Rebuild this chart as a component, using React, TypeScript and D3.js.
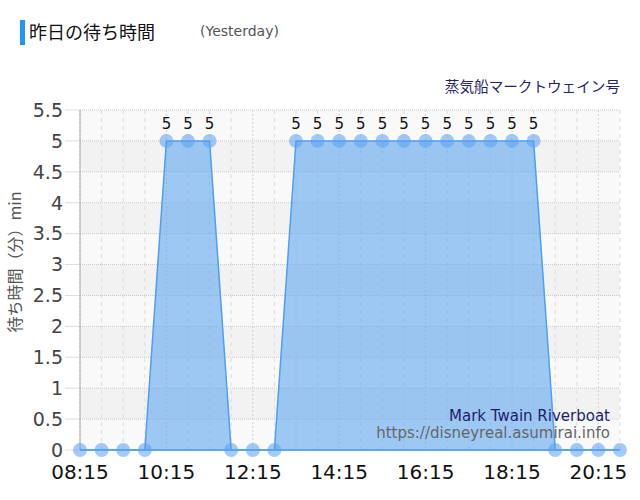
import { useEffect, useRef } from "react";
import { select, scalePoint, scaleLinear, area, line } from "d3";

const TIMES = [
  "08:15", "08:45", "09:15", "09:45", "10:15", "10:45", "11:15", "11:45",
  "12:15", "12:45", "13:15", "13:45", "14:15", "14:45", "15:15", "15:45",
  "16:15", "16:45", "17:15", "17:45", "18:15", "18:45", "19:15", "19:45",
  "20:15", "20:45",
];
const WAIT = [0, 0, 0, 0, 5, 5, 5, 0, 0, 0, 5, 5, 5, 5, 5, 5, 5, 5, 5, 5, 5, 5, 0, 0, 0, 0];
const X_LABELS = ["08:15", "10:15", "12:15", "14:15", "16:15", "18:15", "20:15"];
const Y_TICKS = [0, 0.5, 1, 1.5, 2, 2.5, 3, 3.5, 4, 4.5, 5, 5.5];

const WIDTH = 640;
const HEIGHT = 500;
const PLOT = { left: 80, right: 620, top: 110, bottom: 450 };
const FONT = "'Noto Sans CJK JP', 'DejaVu Sans', sans-serif";
const SANS = "'DejaVu Sans', sans-serif";

export default function App() {
  const svgRef = useRef<SVGSVGElement>(null);

  useEffect(() => {
    const svg = select(svgRef.current);
    svg.selectAll("*").remove();

    const x = scalePoint<string>().domain(TIMES).range([PLOT.left, PLOT.right]).padding(0);
    const y = scaleLinear().domain([0, 5.5]).range([PLOT.bottom, PLOT.top]);

    // title
    svg.append("rect").attr("x", 20).attr("y", 20).attr("width", 5).attr("height", 25).attr("fill", "#2196f3");
    svg.append("text").attr("x", 29).attr("y", 39).attr("font-family", FONT).attr("font-size", 18)
      .attr("fill", "#111").text("昨日の待ち時間");
    svg.append("text").attr("x", 200).attr("y", 36).attr("font-family", SANS)
      .attr("font-size", 14).attr("fill", "#555").text("(Yesterday)");
    svg.append("text").attr("x", 620).attr("y", 92).attr("text-anchor", "end").attr("font-family", FONT)
      .attr("font-size", 14.6).attr("fill", "#23236b").text("蒸気船マークトウェイン号");

    // background bands
    Y_TICKS.slice(0, -1).forEach((v, i) => {
      svg.append("rect")
        .attr("x", PLOT.left).attr("y", y(v + 0.5))
        .attr("width", PLOT.right - PLOT.left).attr("height", y(v) - y(v + 0.5))
        .attr("fill", i % 2 === 0 ? "#f9f9f9" : "#f2f2f2");
    });

    // vertical grid
    TIMES.forEach((t) => {
      svg.append("line")
        .attr("x1", x(t)!).attr("x2", x(t)!).attr("y1", PLOT.top).attr("y2", PLOT.bottom)
        .attr("stroke", X_LABELS.includes(t) ? "#d0d0d0" : "#dddddd")
        .attr("stroke-dasharray", X_LABELS.includes(t) ? "2,2" : "4,4");
    });

    // horizontal grid + y ticks
    Y_TICKS.forEach((v) => {
      svg.append("line")
        .attr("x1", PLOT.left).attr("x2", PLOT.right).attr("y1", y(v)).attr("y2", y(v))
        .attr("stroke", "#c8c8c8").attr("stroke-dasharray", "1,1");
      svg.append("line")
        .attr("x1", PLOT.left - 15).attr("x2", PLOT.left).attr("y1", y(v)).attr("y2", y(v))
        .attr("stroke", "#dddddd");
      svg.append("text")
        .attr("x", PLOT.left - 17).attr("y", y(v)).attr("dy", "0.36em").attr("text-anchor", "end")
        .attr("font-family", SANS).attr("font-size", 19).attr("fill", "#444")
        .text(String(v));
    });

    // y axis line
    svg.append("line").attr("x1", PLOT.left).attr("x2", PLOT.left).attr("y1", PLOT.top).attr("y2", PLOT.bottom)
      .attr("stroke", "#aaaaaa");

    // area
    const pts = WAIT.map((v, i) => [x(TIMES[i])!, y(v)] as [number, number]);
    const areaGen = area<[number, number]>().x((d) => d[0]).y0(y(0)).y1((d) => d[1]);
    svg.append("path").attr("d", areaGen(pts)).attr("fill", "rgba(100,170,240,0.62)");
    const lineGen = line<[number, number]>().x((d) => d[0]).y((d) => d[1]);
    svg.append("path").attr("d", lineGen(pts)).attr("fill", "none").attr("stroke", "#4f9ef0").attr("stroke-width", 1.5);
    svg.append("line").attr("x1", PLOT.left).attr("x2", PLOT.right).attr("y1", y(0)).attr("y2", y(0))
      .attr("stroke", "#5aa6f2").attr("stroke-width", 2);

    // points
    pts.forEach(([px, py]) => {
      svg.append("circle").attr("cx", px).attr("cy", py).attr("r", 7).attr("fill", "rgba(90,160,240,0.55)");
    });

    // data labels
    WAIT.forEach((v, i) => {
      if (v > 0) {
        svg.append("text").attr("x", x(TIMES[i])!).attr("y", y(v) - 12).attr("text-anchor", "middle")
          .attr("font-family", SANS).attr("font-size", 15).attr("fill", "#111")
          .text(String(v));
      }
    });

    // x labels
    X_LABELS.forEach((t) => {
      svg.append("text").attr("x", x(t)!).attr("y", 479).attr("text-anchor", "middle")
        .attr("font-family", SANS).attr("font-size", 20).attr("fill", "#111")
        .text(t);
    });

    // y title
    svg.append("text")
      .attr("transform", "translate(21,262) rotate(-90)")
      .attr("text-anchor", "middle").attr("font-family", FONT).attr("font-size", 16).attr("fill", "#555")
      .text("待ち時間（分）min");

    // watermark
    svg.append("text").attr("x", 610).attr("y", 421).attr("text-anchor", "end")
      .attr("font-family", SANS).attr("font-size", 15).attr("fill", "#1e1e6e")
      .text("Mark Twain Riverboat");
    svg.append("text").attr("x", 610).attr("y", 438).attr("text-anchor", "end")
      .attr("font-family", SANS).attr("font-size", 15).attr("fill", "#666")
      .text("https://disneyreal.asumirai.info");
  }, []);

  return (
    <svg
      ref={svgRef}
      width={WIDTH}
      height={HEIGHT}
      style={{ position: "absolute", left: 0, top: 0, background: "#fff" }}
    />
  );
}
